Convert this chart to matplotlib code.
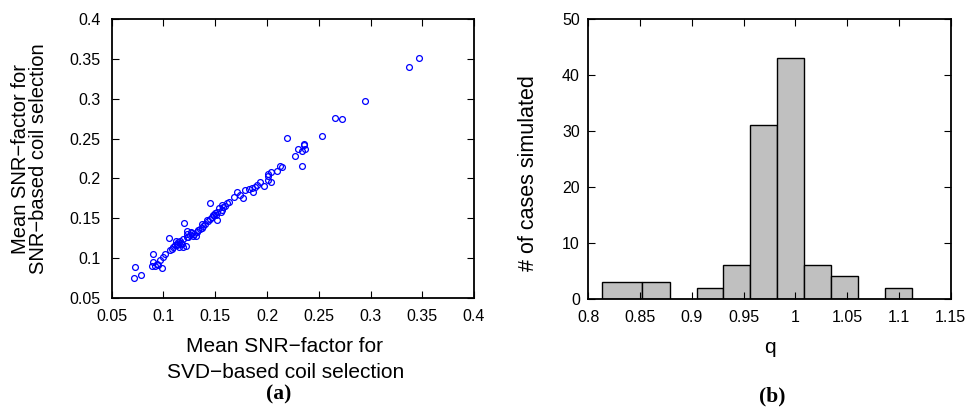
import matplotlib
matplotlib.use("Agg")
import matplotlib.pyplot as plt
from matplotlib.ticker import FixedLocator, FixedFormatter

plt.rcParams['font.family'] = ['Liberation Sans', 'DejaVu Sans']

# ---- data (a): mean SNR-factor, SVD-based vs SNR-based coil selection ----
svd_x = [0.3466, 0.337, 0.2947, 0.266, 0.2728, 0.2529, 0.2194, 0.2303, 0.2339, 0.2361,
         0.2361, 0.2368, 0.2274, 0.2339, 0.2126, 0.2142, 0.2094, 0.2042, 0.2013, 0.2007,
         0.2007, 0.2039, 0.1969, 0.1933, 0.1900, 0.1884, 0.1856, 0.1830, 0.1785, 0.1865,
         0.1708, 0.1740, 0.1766, 0.1682, 0.1636, 0.1611, 0.1595, 0.1578, 0.1566, 0.1559,
         0.1508, 0.1514, 0.1491, 0.1450, 0.1202, 0.1225, 0.1057, 0.0902, 0.0725, 0.0715,
         0.0780, 0.1466, 0.1476, 0.1450, 0.1434, 0.1418, 0.1401, 0.1385, 0.1369, 0.1353,
         0.1337, 0.1321, 0.1314, 0.1298, 0.1282, 0.1273, 0.1257, 0.1241, 0.1218, 0.1186,
         0.1176, 0.1160, 0.1144, 0.1134, 0.1154, 0.1121, 0.1128, 0.1112, 0.1095, 0.1079,
         0.1063, 0.1015, 0.0999, 0.0983, 0.0967, 0.0950, 0.0934, 0.0918, 0.0896, 0.0886,
         0.1192, 0.1224, 0.1498, 0.1514, 0.1563, 0.1224, 0.1263, 0.1369, 0.1540, 0.1170]
snr_y = [0.3515, 0.340, 0.297, 0.276, 0.2749, 0.2535, 0.251, 0.2372, 0.2347, 0.2431,
         0.2415, 0.2364, 0.2280, 0.2150, 0.2158, 0.2138, 0.2096, 0.2083, 0.2050, 0.2029,
         0.1979, 0.1957, 0.1900, 0.1954, 0.1916, 0.1894, 0.1882, 0.1862, 0.1853, 0.1824,
         0.1832, 0.1790, 0.1749, 0.1769, 0.1706, 0.1686, 0.1652, 0.1636, 0.1602, 0.1580,
         0.1535, 0.1476, 0.1535, 0.1694, 0.1447, 0.1342, 0.1250, 0.1053, 0.0894, 0.0751,
         0.0794, 0.1518, 0.1535, 0.1496, 0.1467, 0.1476, 0.1434, 0.1400, 0.1384, 0.1367,
         0.1350, 0.1329, 0.1275, 0.1308, 0.1275, 0.1317, 0.1287, 0.1266, 0.1153, 0.1140,
         0.1174, 0.1216, 0.1203, 0.1161, 0.1140, 0.1216, 0.1182, 0.1161, 0.1140, 0.1115,
         0.1098, 0.1048, 0.1014, 0.0880, 0.0972, 0.0909, 0.0930, 0.0897, 0.0951, 0.0897,
         0.1245, 0.1266, 0.1561, 0.1581, 0.1665, 0.1308, 0.1329, 0.1426, 0.1623, 0.1190]

# ---- data (b): histogram of q ----
q_bin_left = [0.8135, 0.8522, 0.9046, 0.9304, 0.9565, 0.9826, 1.0086, 1.0347, 1.0869]
q_bin_right = [0.8522, 0.8786, 0.9304, 0.9565, 0.9826, 1.0086, 1.0347, 1.0608, 1.1129]
q_counts = [3, 3, 2, 6, 31, 43, 6, 4, 2]

xticks_a = [0.05, 0.1, 0.15, 0.2, 0.25, 0.3, 0.35, 0.4]
xticklabels_a = ['0.05', '0.1', '0.15', '0.2', '0.25', '0.3', '0.35', '0.4']
xticks_b = [0.8, 0.85, 0.9, 0.95, 1.0, 1.05, 1.1, 1.15]
xticklabels_b = ['0.8', '0.85', '0.9', '0.95', '1', '1.05', '1.1', '1.15']
yticks_b = [0, 10, 20, 30, 40, 50]

W, H = 969.0, 411.0
fig = plt.figure(figsize=(9.69, 4.11), dpi=100)
ax1 = fig.add_axes([0.1153, 0.2749, 0.3739, 0.679])
ax2 = fig.add_axes([0.6071, 0.2730, 0.3740, 0.681])


def style(ax, ypad):
    for s in ax.spines.values():
        s.set_linewidth(1.3)
    ax.tick_params(direction='in', top=True, right=True, length=5, width=0.8,
                   labelsize=11.5)
    ax.tick_params(axis='x', pad=8)
    ax.tick_params(axis='y', pad=ypad)


# (a) scatter
ax1.plot(svd_x, snr_y, linestyle='none', marker='o', markerfacecolor='none',
         markeredgecolor='#0000ff', markersize=4.2, markeredgewidth=0.9)
ax1.set_xlim(0.05, 0.4)
ax1.set_ylim(0.05, 0.4)
ax1.xaxis.set_major_locator(FixedLocator(xticks_a))
ax1.xaxis.set_major_formatter(FixedFormatter(xticklabels_a))
ax1.yaxis.set_major_locator(FixedLocator(xticks_a))
ax1.yaxis.set_major_formatter(FixedFormatter(xticklabels_a))
style(ax1, 8)

# (b) histogram
widths = [r - l for l, r in zip(q_bin_left, q_bin_right)]
ax2.bar(q_bin_left, q_counts, width=widths, align='edge', color='#c0c0c0',
        edgecolor='black', linewidth=1.0)
ax2.set_xlim(0.8, 1.15)
ax2.set_ylim(0, 50)
ax2.xaxis.set_major_locator(FixedLocator(xticks_b))
ax2.xaxis.set_major_formatter(FixedFormatter(xticklabels_b))
ax2.yaxis.set_major_locator(FixedLocator(yticks_b))
style(ax2, 6)

# axis labels (placed as figure text to match the reference layout)
fig.text(285 / W, 1 - 351.7 / H, 'Mean SNR\u2212factor for', fontsize=15,
         ha='center', va='baseline')
fig.text(286 / W, 1 - 378.3 / H, 'SVD\u2212based coil selection', fontsize=15,
         ha='center', va='baseline')
fig.text(21 / W, 1 - 159 / H, 'Mean SNR\u2212factor for', fontsize=14.5,
         rotation=90, ha='center', va='center')
fig.text(39 / W, 1 - 159 / H, 'SNR\u2212based coil selection', fontsize=14.5,
         rotation=90, ha='center', va='center')
fig.text(770 / W, 1 - 352.5 / H, 'q', fontsize=15, ha='center', va='baseline')
fig.text(529 / W, 1 - 173 / H, '# of cases simulated', fontsize=15.5,
         rotation=90, ha='center', va='center')

fig.text(279 / W, 1 - 394 / H, '(a)', family=['Liberation Serif', 'DejaVu Serif'],
         fontweight='bold', fontsize=15.5, ha='center', va='center')
fig.text(772 / W, 1 - 396.7 / H, '(b)', family=['Liberation Serif', 'DejaVu Serif'],
         fontweight='bold', fontsize=15.5, ha='center', va='center')

fig.savefig('out.png', dpi=100)
